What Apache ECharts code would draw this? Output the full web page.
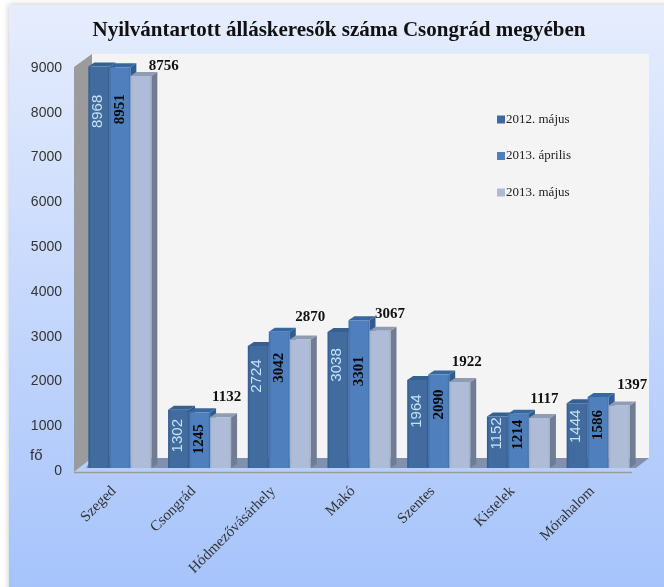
<!DOCTYPE html>
<html>
<head>
<meta charset="utf-8">
<style>
  html, body { margin: 0; padding: 0; background: #fff; }
  #chart { width: 664px; height: 587px; }
</style>
<script src="https://cdn.jsdelivr.net/npm/echarts@6/dist/echarts.min.js"></script>
</head>
<body>
<div id="chart"></div>
<script>
const categories = ['Szeged', 'Csongrád', 'Hódmezővásárhely', 'Makó', 'Szentes', 'Kistelek', 'Mórahalom'];
const yTicks = [0, 1000, 2000, 3000, 4000, 5000, 6000, 7000, 8000, 9000];
const seriesNames = ['2012. május', '2013. április', '2013. május'];
const may2012 = [8968, 1302, 2724, 3038, 1964, 1152, 1444];
const apr2013 = [8951, 1245, 3042, 3301, 2090, 1214, 1586];
const may2013 = [8756, 1132, 2870, 3067, 1922, 1117, 1397];

// hand placed data labels, px from the top of each bar
const dropMay2012 = [45, 26, 30, 33, 31, 17, 23];
const dropApr2013 = [42, 27, 36, 51, 30, 21, 28];
const riseMay2013 = [10, 20, 22, 17, 20, 19, 20];
const shiftMay2013 = [23, 6, 10, 10, 7, 5, 13];

const barWidth = 21;
const groupShift = 6;
const floorLift = 3;
const depthX = 6;
const depthY = 4;

const barStyles = [
  { edge: '#34598a', face: '#426b9f', top: '#35608f', side: '#2f5582', color: '#3f6a9f' },
  { edge: '#3f6fa8', face: '#4f80bd', top: '#37679f', side: '#2e5d93', color: '#4c7fbb' },
  { edge: '#9fadc9', face: '#aebcd7', top: '#8f9cb4', side: '#6f7c94', color: '#adbbd6' },
];

function faceFill(style) {
  return {
    type: 'linear', x: 0, y: 0, x2: 1, y2: 0,
    colorStops: [
      { offset: 0, color: style.edge },
      { offset: 0.12, color: style.face },
      { offset: 0.9, color: style.face },
      { offset: 1, color: style.edge },
    ],
  };
}

function barLabel(k, i, x, top, value) {
  if (k === 2) {
    return {
      type: 'text',
      z2: 20,
      style: {
        x: x + barWidth / 2 + shiftMay2013[i],
        y: top - riseMay2013[i],
        text: String(value),
        align: 'center',
        verticalAlign: 'middle',
        fill: '#111',
        font: 'bold 15px "Liberation Serif"',
      },
    };
  }
  const drop = k === 0 ? dropMay2012[i] : dropApr2013[i];
  return {
    type: 'text',
    x: x + barWidth / 2 - (k === 0 ? 1 : 0),
    y: top + drop,
    rotation: Math.PI / 2,
    z2: 20,
    style: {
      x: 0,
      y: 0,
      text: String(value),
      align: 'center',
      verticalAlign: 'middle',
      fill: k === 0 ? '#c3e2f4' : '#0a0a0a',
      font: k === 0 ? '15px "Liberation Sans"' : 'bold 15px "Liberation Serif"',
    },
  };
}

function barRenderer(k) {
  return function (params, api) {
    const i = api.value(0);
    const value = api.value(1);
    const topPt = api.coord([i, value]);
    const basePt = api.coord([i, 0]);
    const x = topPt[0] + groupShift + (k - 1.5) * barWidth;
    const top = topPt[1] - floorLift;
    const base = basePt[1] - floorLift;
    const s = barStyles[k];
    return {
      type: 'group',
      children: [
        {
          type: 'polygon',
          shape: { points: [[x + barWidth, top], [x + barWidth + depthX, top - depthY], [x + barWidth + depthX, base - depthY], [x + barWidth, base]] },
          style: { fill: s.side },
        },
        {
          type: 'polygon',
          shape: { points: [[x, top], [x + depthX, top - depthY], [x + barWidth + depthX, top - depthY], [x + barWidth, top]] },
          style: { fill: s.top },
        },
        {
          type: 'rect',
          shape: { x: x, y: top, width: barWidth, height: base - top },
          style: { fill: faceFill(s) },
        },
        barLabel(k, i, x, top, value),
      ],
    };
  };
}

function makeSeries(k, values) {
  return {
    name: seriesNames[k],
    type: 'custom',
    renderItem: barRenderer(k),
    encode: { x: 0, y: 1 },
    itemStyle: { color: barStyles[k].color },
    data: values.map((v, i) => [i, v]),
  };
}

const chart = echarts.init(document.getElementById('chart'));

chart.setOption({
  animation: false,
  backgroundColor: '#fff',
  title: {
    text: 'Nyilvántartott álláskeresők száma Csongrád megyében',
    left: 334,
    top: 15,
    textAlign: 'center',
    textStyle: { fontFamily: 'Liberation Serif', fontWeight: 'bold', fontSize: 21, color: '#111' },
  },
  legend: {
    orient: 'vertical',
    left: 492,
    top: 108,
    icon: 'rect',
    itemWidth: 8,
    itemHeight: 8,
    itemGap: 23.5,
    selectedMode: false,
    data: seriesNames,
    textStyle: { fontFamily: 'Liberation Serif', fontSize: 13, color: '#222', padding: [0, 0, 0, -4] },
  },
  grid: { left: 74, right: 32, top: 68, bottom: 116 },
  xAxis: {
    type: 'category',
    data: categories,
    axisLine: { show: false },
    axisTick: { show: false },
    axisLabel: {
      rotate: 45,
      interval: 0,
      margin: 18,
      fontFamily: 'Liberation Serif',
      fontSize: 15,
      color: '#333',
    },
  },
  yAxis: {
    type: 'value',
    min: yTicks[0],
    max: yTicks[yTicks.length - 1],
    interval: 1000,
    axisLine: { show: false },
    axisTick: { show: false },
    splitLine: { show: false },
    axisLabel: {
      margin: 12,
      formatter: (v) => String(v),
      fontFamily: 'Liberation Sans',
      fontSize: 14,
      color: '#333',
    },
  },
  graphic: [
    {
      type: 'rect',
      shape: { x: 9, y: 5, width: 670, height: 600 },
      style: {
        fill: {
          type: 'linear', x: 0, y: 0, x2: 0, y2: 1,
          colorStops: [{ offset: 0, color: '#e6edfd' }, { offset: 1, color: '#a4c2fb' }],
        },
        shadowBlur: 6,
        shadowColor: 'rgba(0,0,0,0.25)',
      },
    },
    // back wall, side wall and floor
    { type: 'rect', shape: { x: 92, y: 54, width: 557, height: 404 }, style: { fill: '#f4f4f4' } },
    { type: 'polygon', shape: { points: [[74, 67], [92, 54], [92, 458], [74, 472]] }, style: { fill: '#9b9b9b' } },
    { type: 'polygon', shape: { points: [[74, 472], [92, 458], [649, 458], [632, 472]] }, style: { fill: '#b7cffb' } },
    { type: 'polygon', shape: { points: [[86, 468], [92, 458], [649, 458], [636, 468]] }, style: { fill: '#8090ae' } },
    { type: 'line', shape: { x1: 74, y1: 472.5, x2: 632, y2: 472.5 }, style: { stroke: '#9a9a92', lineWidth: 1.5 } },
    {
      type: 'text',
      x: 30,
      y: 448,
      style: { text: 'fő', fill: '#333', font: '15px "Liberation Sans"' },
    },
  ],
  series: [makeSeries(0, may2012), makeSeries(1, apr2013), makeSeries(2, may2013)],
});
</script>
</body>
</html>
